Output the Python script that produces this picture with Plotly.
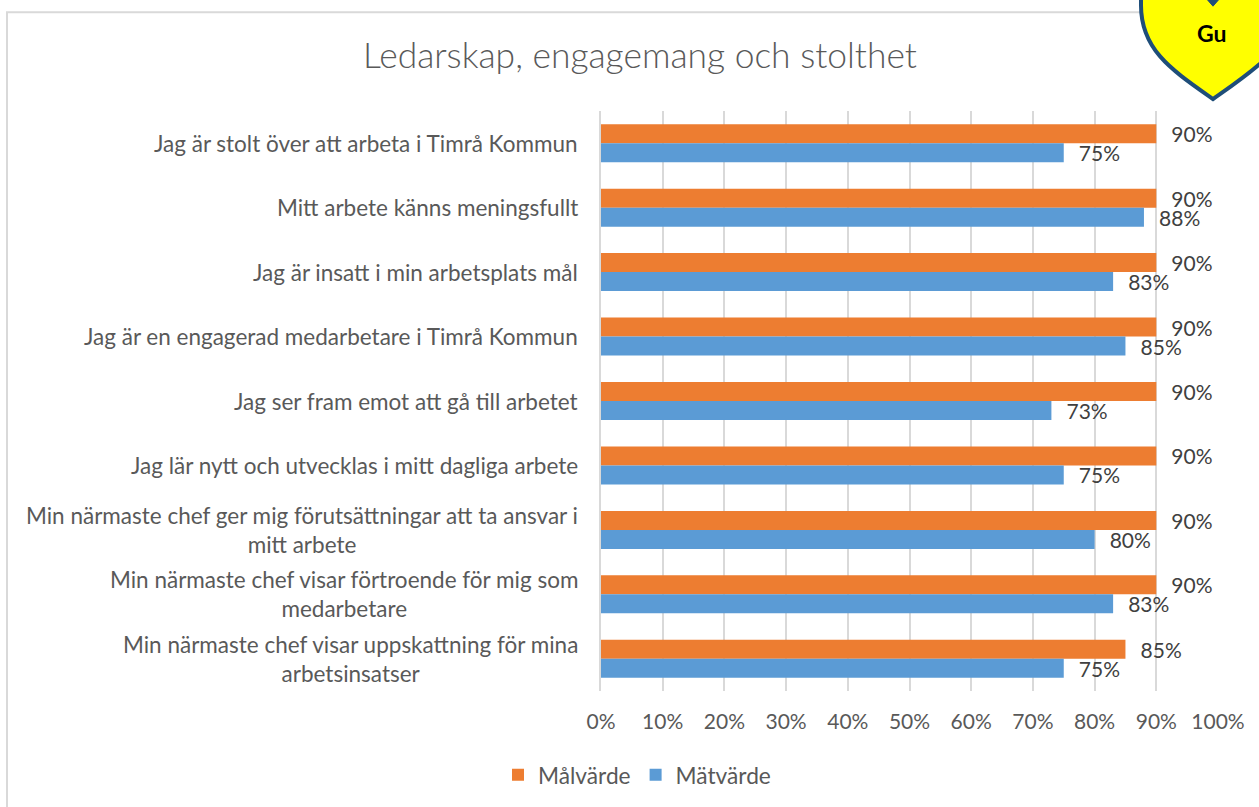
import plotly.graph_objects as go

categories = [
    "Jag är stolt över att arbeta i Timrå Kommun",
    "Mitt arbete känns meningsfullt",
    "Jag är insatt i min arbetsplats mål",
    "Jag är en engagerad medarbetare i Timrå Kommun",
    "Jag ser fram emot att gå till arbetet",
    "Jag lär nytt och utvecklas i mitt dagliga arbete",
    "Min närmaste chef ger mig förutsättningar att ta ansvar i<br>mitt arbete",
    "Min närmaste chef visar förtroende för mig som<br>medarbetare",
    "Min närmaste chef visar uppskattning för mina<br>arbetsinsatser",
]
malvarde = [90, 90, 90, 90, 90, 90, 90, 90, 85]
matvarde = [75, 88, 83, 85, 73, 75, 80, 83, 75]
tick_vals = list(range(0, 101, 10))
tick_text = [f"{v}%" for v in tick_vals]

FONT = "Lato"
GREY = "#595959"
LABEL = "#404040"
W, H = 1259, 807
L, R, T, B = 601, 1218, 111, 692
PAD = "\u00a0" * 2 + "\u200a"


def px(x):
    return (x - L) / (R - L)


def py(y):
    return (B - y) / (B - T)


def P(x, y):
    return f"{px(x):.5f},{py(y):.5f}"


fig = go.Figure()
for name, values, color in (
    ("Målvärde", malvarde, "#ED7D31"),
    ("Mätvärde", matvarde, "#5B9BD5"),
):
    fig.add_bar(
        name=name, y=categories, x=values, orientation="h",
        marker=dict(color=color, line_width=0),
        text=[f"{PAD}{v}%" for v in values], textposition="outside",
        cliponaxis=False, constraintext="none",
        textfont=dict(family=FONT, size=21, color=LABEL),
    )

heart = (
    f"M {P(1213, 99)} "
    f"C {P(1172, 70)} {P(1141, 50)} {P(1141, 5)} "
    f"L {P(1141, -10)} L {P(1300, -10)} L {P(1300, 5)} "
    f"C {P(1285, 50)} {P(1254, 70)} {P(1213, 99)} Z"
)
notch = f"M {P(1206, -2)} L {P(1220, -2)} L {P(1213, 6)} Z"

category_labels = [
    dict(text=c, xref="paper", yref="y", x=px(580), y=c, xanchor="right",
         yanchor="middle", align="center", showarrow=False,
         font=dict(family=FONT, size=22.5, color=GREY))
    for c in categories
]

fig.update_layout(
    width=W, height=H, autosize=False,
    margin=dict(l=L, r=W - R, t=T, b=H - B, pad=0),
    paper_bgcolor="white", plot_bgcolor="white",
    barmode="group", bargap=0.41, bargroupgap=0,
    title=dict(
        text="Ledarskap, engagemang och stolthet",
        x=640 / W, xanchor="center", y=1 - 56 / H, yanchor="middle",
        font=dict(family=FONT, size=35.4, color=GREY, weight=300),
    ),
    font=dict(family=FONT, size=22, color=GREY),
    xaxis=dict(
        range=[0, 100], tickvals=tick_vals, ticktext=tick_text,
        showgrid=True, gridcolor="#D9D9D9", gridwidth=2, zeroline=False,
        showline=False, ticks="", ticklabelstandoff=16,
        tickfont=dict(family=FONT, size=21, color=GREY),
    ),
    yaxis=dict(
        autorange="reversed", showgrid=False, zeroline=False,
        showline=True, linecolor="#D9D9D9", linewidth=2, ticks="",
        showticklabels=False,
    ),
    legend=dict(
        orientation="h", x=px(637), xref="paper", xanchor="center",
        y=py(775), yanchor="middle",
        font=dict(family=FONT, size=22.7, color=GREY),
        traceorder="normal",
    ),
    shapes=[
        dict(type="path", xref="paper", yref="paper",
             path=f"M {P(7, 810)} L {P(7, 12)} L {P(1150, 12)}",
             line=dict(color="#D9D9D9", width=2), layer="below"),
        dict(type="path", xref="paper", yref="paper", path=heart,
             fillcolor="#FFFF00", line=dict(color="#1F4E79", width=4), layer="above"),
        dict(type="path", xref="paper", yref="paper", path=notch,
             fillcolor="#1F4E79", line=dict(color="#1F4E79", width=1), layer="above"),
    ],
    annotations=category_labels + [
        dict(text="<b>Gu</b>", xref="paper", yref="paper", x=px(1212), y=py(33),
             xanchor="center", yanchor="middle", showarrow=False,
             font=dict(family=FONT, size=23, color="black")),
    ],
)

fig.write_html(
    "out.html",
    config={"displayModeBar": False},
    post_script="document.body.style.margin='0';",
)
